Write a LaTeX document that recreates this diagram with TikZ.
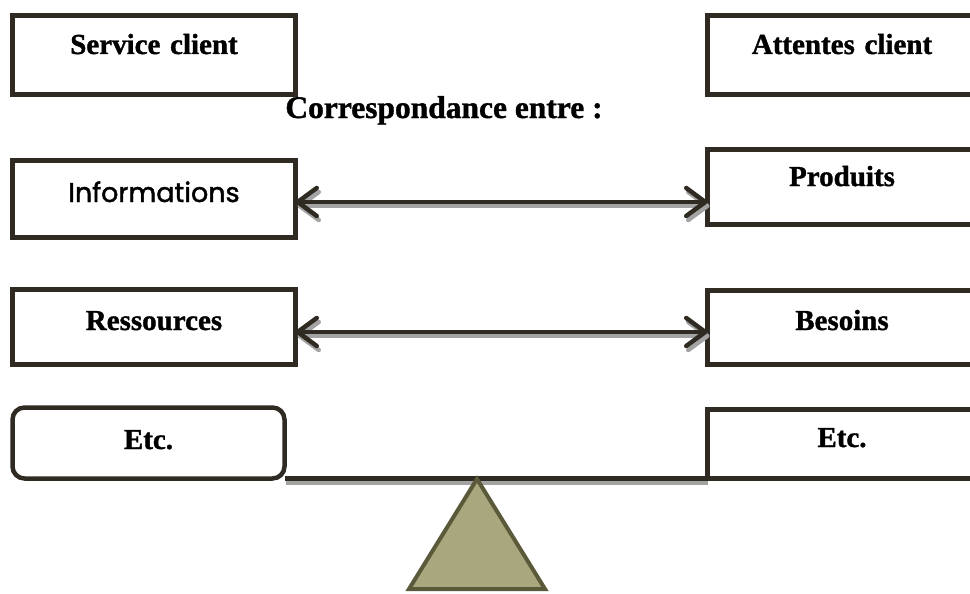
\documentclass[tikz,border=0pt]{standalone}
\usepackage{fontspec}
\setmainfont{Liberation Serif}[BoldFeatures={FakeBold=1.2}]
\newfontfamily\geofont{Poppins}[FakeBold=1.6]
\usetikzlibrary{arrows.meta}
\definecolor{ink}{HTML}{302B22}
\definecolor{shade}{HTML}{A3A3A3}
\definecolor{olive}{HTML}{A9A77D}
\definecolor{oliveline}{HTML}{5A5A3A}
\begin{document}
\begin{tikzpicture}[x=1pt,y=-1pt,
  box/.style={draw=ink, line width=4.5pt, inner sep=0pt, outer sep=0pt,
    anchor=north west, align=center,
    font=\fontsize{29}{34}\selectfont\bfseries},
  leftbox/.style={box, text width=283pt},
  rightbox/.style={box, text width=269pt},
  barb/.tip={Straight Barb[length=19pt,width=28pt,line width=4.5pt,round]},
  link/.style={draw=ink, line width=4.5pt, barb-barb},
  linkshadow/.style={link, draw=shade},
  beam/.style={draw=ink, line width=4.5pt},
  beamshadow/.style={draw=shade, line width=4.5pt},
]
\useasboundingbox (0,0) rectangle (970,594);
\begin{scope}
\clip (0,0) rectangle (970,594);

% left column
\node[leftbox, text height=38.5pt, text depth=40.5pt] (svc) at (12.5,15.5) {Service client};
\node[leftbox, text height=41.5pt, text depth=35.5pt,
      font=\geofont\fontsize{27}{31}\selectfont] (info) at (12.5,160.5) {Informations};
\node[leftbox, text height=40.5pt, text depth=34.5pt] (ress) at (12.5,289.5) {Ressources};
\node[box, text width=272pt, text height=41.5pt, text depth=29.5pt,
      rounded corners=12pt] (etcL) at (12.5,407.5) {Etc.};

% right column
\node[rightbox, text height=38.5pt, text depth=40.5pt] (att) at (707.5,15.5) {Attentes client};
\node[rightbox, text height=36.5pt, text depth=38.5pt] (prod) at (707.5,149.5) {Produits};
\node[rightbox, text height=39.5pt, text depth=34.5pt] (bes) at (707.5,290.5) {Besoins};
\node[rightbox, text height=37.5pt, text depth=31.5pt] (etcR) at (707.5,409.5) {Etc.};

% heading
\node[font=\fontsize{31.5}{36}\selectfont\bfseries, anchor=base, inner sep=0pt]
  (corr) at (444,118) {Correspondance entre :};

% double arrows with drop shadow
\draw[linkshadow] ([xshift=2pt,yshift=-7pt]info.east) -- ([xshift=2pt,yshift=-19pt]prod.west);
\draw[link] ([yshift=-3pt]info.east) -- ([yshift=-15pt]prod.west);
\draw[linkshadow] ([xshift=2pt,yshift=-9pt]ress.east) -- ([xshift=2pt,yshift=-8.5pt]bes.west);
\draw[link] ([yshift=-5pt]ress.east) -- ([yshift=-4.5pt]bes.west);

% balance beam
\draw[beamshadow] ([xshift=1pt,yshift=-4pt]etcL.south east) -- ([yshift=-4pt]etcR.south west);
\draw[beam] (etcL.south east) -- (etcR.south west);

% fulcrum
\coordinate (apex) at (477,479);
\coordinate (baseR) at (545,589);
\coordinate (baseL) at (409,589);
\draw[draw=oliveline, fill=olive, line width=4pt] (apex) -- (baseR) -- (baseL) -- cycle;
\end{scope}
\end{tikzpicture}
\end{document}
